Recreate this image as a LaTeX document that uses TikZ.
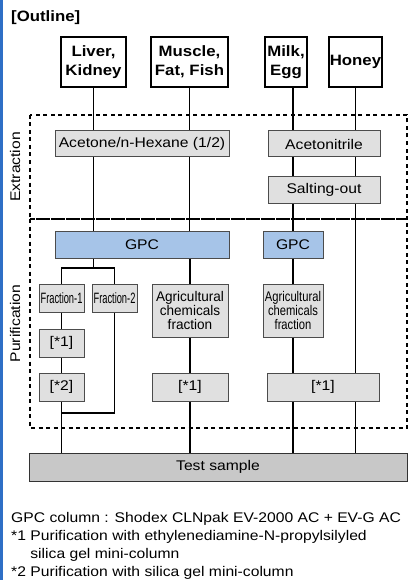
\documentclass[tikz,border=0pt]{standalone}
\usepackage{fontspec}
\setmainfont{Liberation Sans}[FakeStretch=1.12]
\newfontfamily\agrifont{Liberation Sans}[FakeStretch=0.97]
\newfontfamily\narrowfont{Liberation Sans}[FakeStretch=0.8]
\newfontfamily\fracfont{Liberation Sans}[FakeStretch=0.62]
\usetikzlibrary{positioning, calc}
\definecolor{procgray}{HTML}{E0E0E0}
\definecolor{gpcblue}{HTML}{A6C4E8}
\definecolor{testgray}{HTML}{C8C8C8}
\definecolor{barblue}{HTML}{2F6FC6}

\begin{document}
\begin{tikzpicture}[x=1pt, y=-1pt,
        source/.style={draw=black, line width=1.7pt, fill=white, inner sep=0pt, align=center, font=\fontsize{15}{19}\selectfont\bfseries},
        proc/.style={draw=black!70, line width=1pt, fill=procgray, inner sep=0pt, align=center, font=\fontsize{14}{14}\selectfont},
        gpc/.style={proc, fill=gpcblue},
        result/.style={proc, fill=testgray, draw=black!80},
        stage/.style={draw=black, line width=1.8pt, dash pattern=on 4pt off 3.5pt},
        link/.style={line width=1.8pt},
        side/.style={rotate=90, inner sep=0pt, font=\fontsize{14}{14}\selectfont},
    ]
        \useasboundingbox (0,0) rectangle (411,580);
        \fill[barblue] (0,0) rectangle (3,580);

        \node[anchor=west, inner sep=0pt, font=\fontsize{15}{18}\selectfont\bfseries] (outline) at (11,18) {[Outline]};

        % Samples
        \node[source, minimum width=65pt, minimum height=50pt] (liver) at (93.5,62) {Liver,\\Kidney};
        \node[source, minimum width=77pt, minimum height=50pt] (muscle) at (189.5,62) {Muscle,\\Fat, Fish};
        \node[source, minimum width=42pt, minimum height=50pt] (milk) at (286,62) {Milk,\\Egg};
        \node[source, minimum width=53pt, minimum height=50pt] (honey) at (355.5,62) {Honey};

        % Extraction
        \node[proc, minimum width=174pt, minimum height=26pt] (acetone) at (142,144) {Acetone/n-Hexane (1/2)};
        \node[proc, minimum width=112pt, minimum height=26pt] (acetonitrile) at (324,144) {Acetonitrile};
        \node[proc, minimum width=112pt, minimum height=27pt] (salting) at (324,190) {Salting-out};

        % Purification
        \node[gpc, minimum width=174pt, minimum height=27pt] (gpc) at (142,244.5) {GPC};
        \node[gpc, minimum width=60pt, minimum height=27pt] (gpc2) at (293,244.5) {GPC};
        \node[proc, minimum width=45pt, minimum height=28pt, font=\fontsize{15}{15}\selectfont\fracfont] (frac1) at (61.5,298) {Fraction-1};
        \node[proc, minimum width=45pt, minimum height=28pt, font=\fontsize{15}{15}\selectfont\fracfont] (frac2) at (114.5,298) {Fraction-2};
        \node[proc, minimum width=76pt, minimum height=53pt, font=\fontsize{14}{14}\selectfont\agrifont] (agri1) at (190,310.5) {Agricultural\\chemicals\\fraction};
        \node[proc, minimum width=60pt, minimum height=53pt, font=\fontsize{14}{14}\selectfont\narrowfont] (agri2) at (293,310.5) {Agricultural\\chemicals\\fraction};
        \node[proc, minimum width=45pt, minimum height=28pt] (pur1a) at (61.5,343) {[*1]};
        \node[proc, minimum width=45pt, minimum height=28pt] (pur2a) at (61.5,387) {[*2]};
        \node[proc, minimum width=76pt, minimum height=28pt] (pur1b) at (190,387) {[*1]};
        \node[proc, minimum width=112pt, minimum height=28pt] (pur1c) at (323,387) {[*1]};

        % Result
        \node[result, minimum width=378pt, minimum height=28pt] (test) at (218,467) {Test sample};

        \coordinate (split) at (93.5,268);
        \coordinate (join) at (61.5,413);

        % Liver / muscle columns
        \foreach \col in {liver, muscle} {
            \draw[link] (\col.south) -- (\col.south |- acetone.north);
            \draw[link] (\col.south |- acetone.south) -- (\col.south |- gpc.north);
        }
        \draw[link] (gpc.south -| liver.south) -- (split);
        \draw[link] (frac1.north) |- (split) -| (frac2.north);
        \draw[link] (frac1) -- (pur1a);
        \draw[link] (pur1a) -- (pur2a);
        \draw[link] (frac2.south) |- (join);
        \draw[link] (pur2a.south) -- (pur2a.south |- test.north);
        \draw[link] (gpc.south -| agri1.north) -- (agri1.north);
        \draw[link] (agri1) -- (pur1b);
        \draw[link] (pur1b.south) -- (pur1b.south |- test.north);

        % Milk column
        \draw[link] (milk.south -| gpc2.north) -- (acetonitrile.north -| gpc2.north);
        \draw[link] (acetonitrile.south -| gpc2.north) -- (salting.north -| gpc2.north);
        \draw[link] (salting.south -| gpc2.north) -- (gpc2.north);
        \draw[link] (gpc2) -- (agri2);
        \draw[link] (agri2.south) -- (pur1c.north -| agri2.south);
        \draw[link] (pur1c.south -| agri2.south) -- (test.north -| agri2.south);

        % Honey column
        \draw[link] (honey.south) -- (honey.south |- acetonitrile.north);
        \draw[link] (honey.south |- acetonitrile.south) -- (honey.south |- salting.north);
        \draw[link] (honey.south |- salting.south) -- (honey.south |- pur1c.north);
        \draw[link] (honey.south |- pur1c.south) -- (honey.south |- test.north);

        % Stages
        \draw[stage] (30,115) rectangle (407,219);
        \draw[stage] (30,219) rectangle (407,428);
        \node[side] (extraction) at (15,167) {Extraction};
        \node[side] (purification) at (15,323.5) {Purification};

        % Notes
        \node[anchor=north west, align=left, inner sep=0pt, font=\fontsize{14}{18}\selectfont] (notes) at (11,512) {GPC column : Shodex CLNpak EV-2000 AC + EV-G AC\\*1 Purification with ethylenediamine-N-propylsilyled\\\phantom{*1\ }silica gel mini-column\\*2 Purification with silica gel mini-column};
    \end{tikzpicture}
\end{document}
